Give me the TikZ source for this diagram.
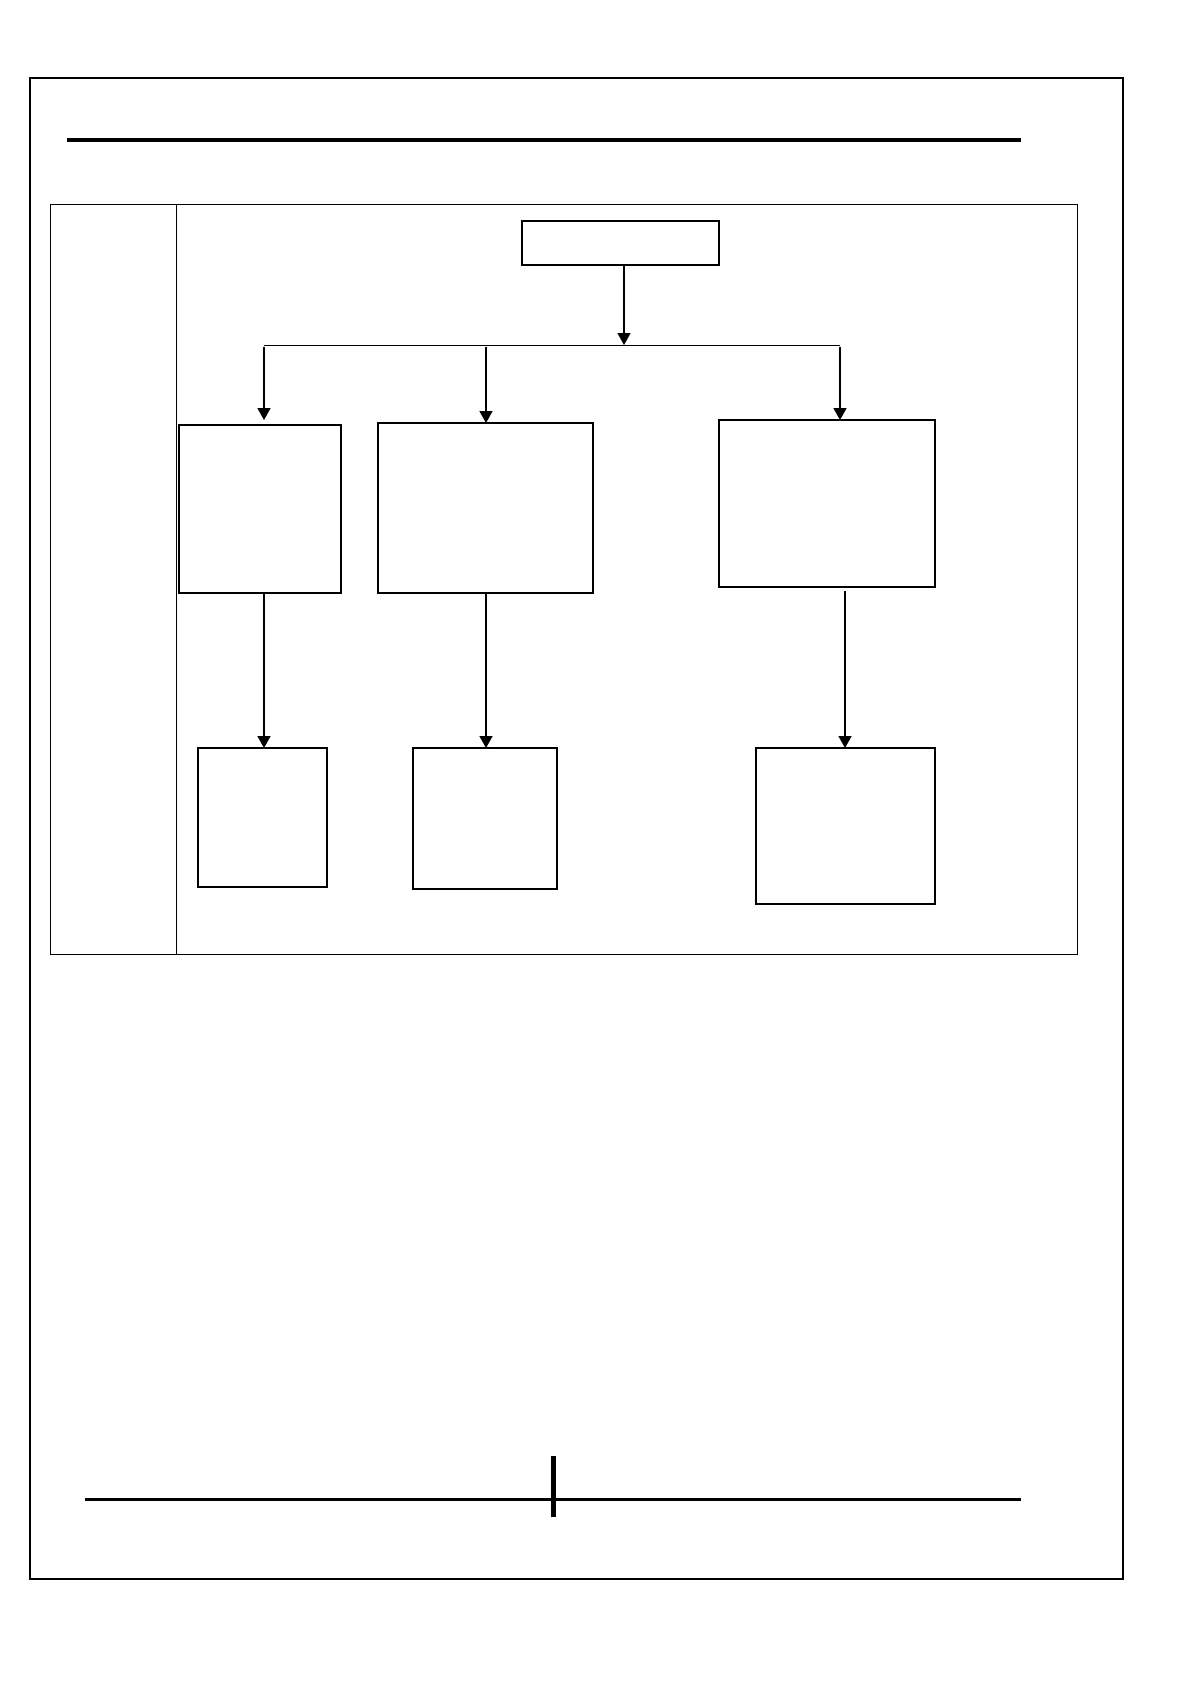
\documentclass[tikz,border=0pt]{standalone}
\usetikzlibrary{arrows.meta}
\begin{document}
\begin{tikzpicture}[x=1pt,y=-1pt,
  box/.style={draw,line width=2pt,inner sep=0pt,outer sep=0pt,anchor=north west},
  conn/.style={line width=1.5pt,-{Triangle[length=12pt,width=13pt]}},
  frameline/.style={line width=1pt},
  rule/.style={line width=3.5pt}]
\fill[white] (0,0) rectangle (1190,1684);
\useasboundingbox (0,0) rectangle (1190,1684);
% page border
\draw[line width=1.4pt] (30,78) rectangle (1123,1579);
% header rule
\draw[rule] (67,140) -- (1021,140);
% frame with left column
\draw[frameline] (50,204) rectangle (1077,954);
\draw[frameline] (176,204) -- (176,954);
% boxes
\node[box,minimum width=197pt,minimum height=44pt] (top) at (522,221) {};
\node[box,minimum width=162pt,minimum height=168pt] (b1) at (179,425) {};
\node[box,minimum width=215pt,minimum height=170pt] (b2) at (378,423) {};
\node[box,minimum width=216pt,minimum height=167pt] (b3) at (719,420) {};
\node[box,minimum width=129pt,minimum height=139pt] (c1) at (198,748) {};
\node[box,minimum width=144pt,minimum height=141pt] (c2) at (413,748) {};
\node[box,minimum width=179pt,minimum height=156pt] (c3) at (756,748) {};
% branch line
\coordinate (hl) at (264,345);
\coordinate (hm) at (486,345);
\coordinate (hr) at (840,345);
\coordinate (hc) at (624,345);
\draw[line width=1pt] (hl) -- (hr);
\draw[conn] (624,265) -- (hc);
\draw[conn] ([yshift=-2pt]hl) -- (264,420);
\draw[conn] ([yshift=-2pt]hm) -- (b2.north -| hm);
\draw[conn] ([yshift=-2pt]hr) -- (b3.north -| hr);
% lower connectors
\draw[conn] (b1.south -| hl) -- (c1.north -| hl);
\draw[conn] (b2.south -| hm) -- (c2.north -| hm);
\draw[conn] (845,591) -- (c3.north -| 845,0);
% footer rule with marker
\draw[rule,line width=3pt] (85,1499) -- (1021,1499);
\draw[line width=5pt] (553,1456) -- (553,1517);
\end{tikzpicture}
\end{document}
